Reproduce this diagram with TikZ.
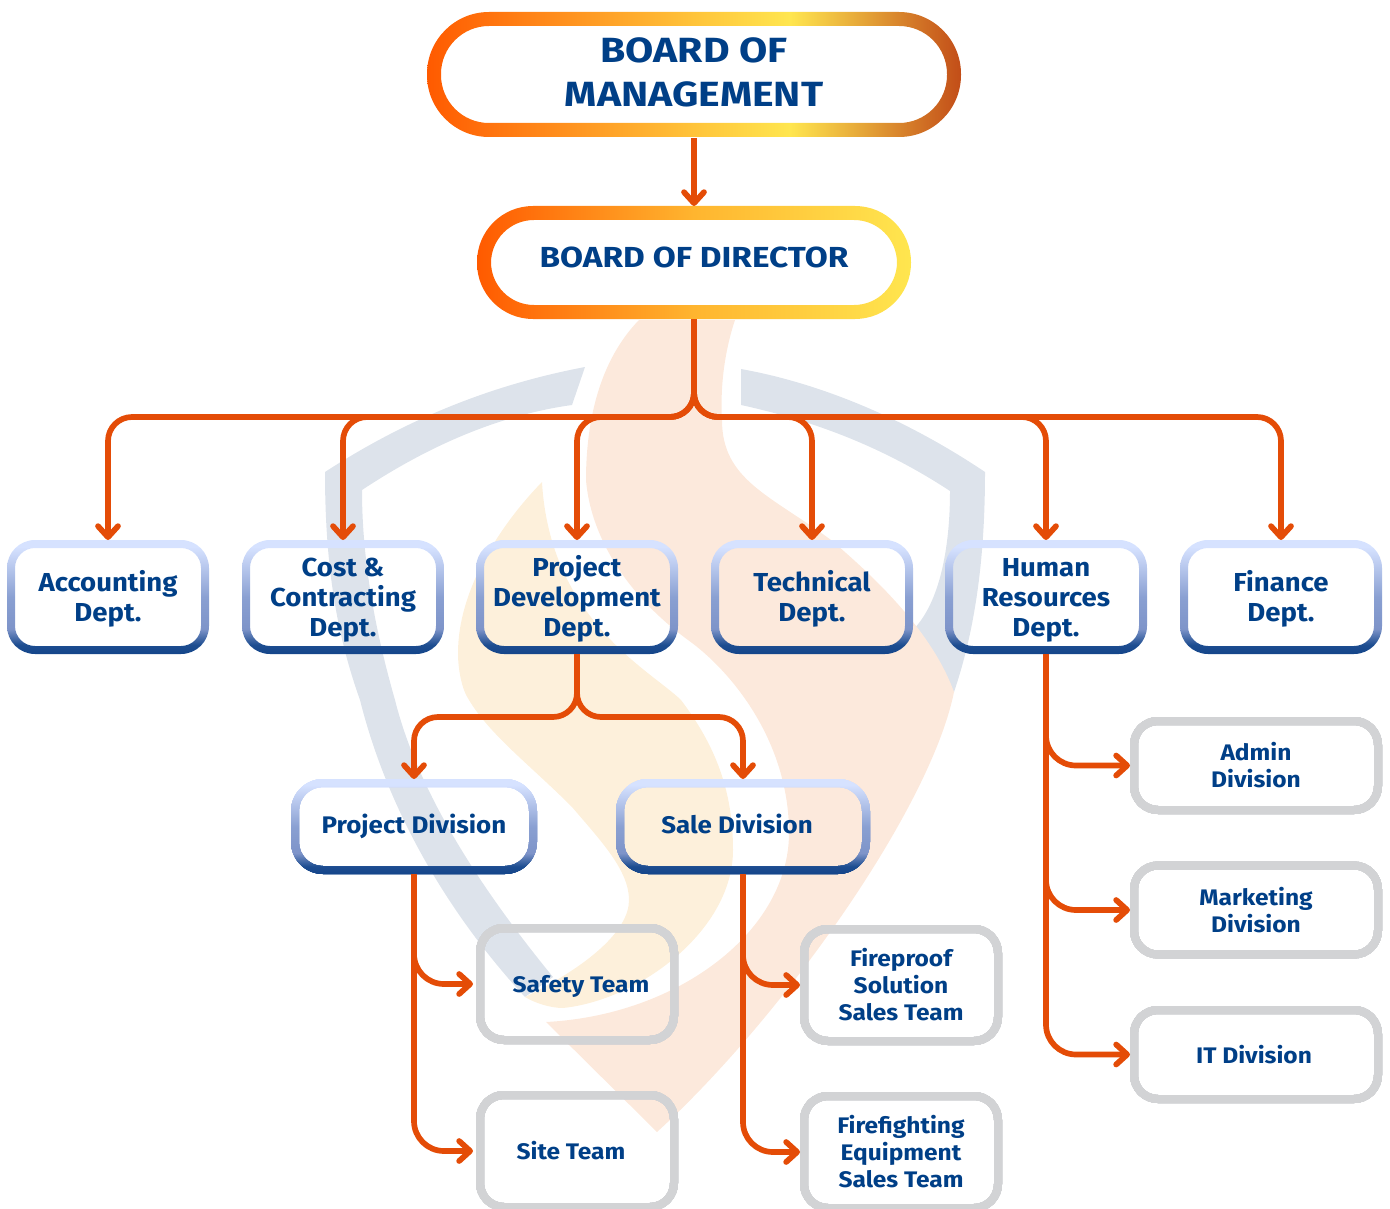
\documentclass[tikz,border=0pt]{standalone}
\usepackage{fontspec}
\setmainfont{Fira Sans}
\usetikzlibrary{arrows.meta}
\definecolor{titleblue}{HTML}{003F87}
\definecolor{linkorange}{HTML}{E44C07}
\definecolor{shieldgrey}{HTML}{DDE3EB}
\definecolor{flamepeach}{HTML}{FCE9DC}
\definecolor{flameyellow}{HTML}{FDF0DB}
\definecolor{teamgrey}{HTML}{D2D3D5}
\definecolor{ringorange}{HTML}{FF5A00}
\definecolor{ringamber}{HTML}{FFC43A}
\definecolor{ringmid}{HTML}{FFB52F}
\definecolor{ringyellow}{HTML}{FFE64F}
\definecolor{ringbrown}{HTML}{C24D18}
\definecolor{ringnavy}{HTML}{14458A}
\definecolor{ringnavyb}{HTML}{1D4D90}
\definecolor{ringblue}{HTML}{7E94C9}
\definecolor{ringbluem}{HTML}{8AA0D2}
\definecolor{ringpale}{HTML}{D6E2FF}
\pgfdeclarehorizontalshading{boardring}{100bp}{color(0bp)=(ringorange);color(25bp)=(ringorange);color(50bp)=(ringamber);color(59bp)=(ringyellow);color(75bp)=(ringbrown);color(100bp)=(ringbrown)}
\pgfdeclarehorizontalshading{directorring}{100bp}{color(0bp)=(ringorange);color(25bp)=(ringorange);color(50bp)=(ringmid);color(75bp)=(ringyellow);color(100bp)=(ringyellow)}
\pgfdeclareverticalshading{deptring}{100bp}{color(0bp)=(ringnavy);color(25bp)=(ringnavy);color(29bp)=(ringnavyb);color(36bp)=(ringblue);color(50bp)=(ringbluem);color(72bp)=(ringpale);color(75bp)=(ringpale);color(100bp)=(ringpale)}
\newcommand{\ringbox}[5]{\path[even odd rule,shading=#1,rounded corners=#3pt] (#2.south west) rectangle (#2.north east)
  [rounded corners=#4pt] ([shift={(#5,#5)}]#2.north west) rectangle ([shift={(-#5,-#5)}]#2.south east);}
\newcommand{\deptgap}{\rule{0pt}{25pt}}
\newcommand{\teamgap}{\rule{0pt}{18pt}}
\tikzset{
  x=1pt,y=-1pt,
  boxtext/.style={inner sep=0pt,outer sep=0pt,text=titleblue,align=center},
  boardbox/.style={boxtext,font=\fontsize{35}{44}\selectfont\bfseries\addfontfeature{FakeStretch=1.17}},
  deptbox/.style={boxtext,minimum width=202pt,minimum height=114pt,font=\fontsize{26}{30}\selectfont\bfseries\addfontfeature{FakeStretch=1.06}},
  divbox/.style={boxtext,minimum height=95pt,font=\fontsize{24}{28}\selectfont\bfseries\addfontfeature{FakeStretch=1.08},
    execute at begin node={\rule{0pt}{24pt}},execute at end node={\rule[-11pt]{0pt}{0pt}}},
  teambox/.style={boxtext,font=\fontsize{22.5}{27}\selectfont\bfseries\addfontfeature{FakeStretch=1.09}},
  teamone/.style={teambox,execute at begin node={\rule{0pt}{24pt}},execute at end node={\rule[-7pt]{0pt}{0pt}}},
  link/.style={draw=linkorange,line width=5.7pt,rounded corners=24pt,-{Straight Barb[length=11pt,width=20pt,round,line width=5.7pt]}}
}
\begin{document}
\begin{tikzpicture}
  \useasboundingbox (0,0) rectangle (1390,1209);
  % watermark
  \fill[shieldgrey] (585,367) .. controls (490,385) and (405,420) .. (325,472)
    .. controls (325,560) and (335,630) .. (360,700)
    .. controls (385,800) and (440,905) .. (525,997) -- (553,977)
    .. controls (490,900) and (420,800) .. (395,700)
    .. controls (375,630) and (362,560) .. (362,490)
    .. controls (430,445) and (500,415) .. (572,405) -- cycle;
  \fill[shieldgrey] (741,369) .. controls (830,385) and (915,425) .. (985,472)
    .. controls (985,560) and (975,630) .. (954,692) -- (900,640)
    .. controls (935,620) and (950,560) .. (950,491)
    .. controls (880,445) and (810,420) .. (741,405) -- cycle;
  \fill[flameyellow] (542,482) .. controls (500,525) and (458,590) .. (458,653)
    .. controls (458,670) and (462,690) .. (469,700)
    .. controls (490,735) and (530,765) .. (572,807)
    .. controls (600,840) and (629,870) .. (629,900)
    .. controls (629,930) and (590,965) .. (525,997)
    .. controls (535,1003) and (550,1008) .. (563,1008)
    .. controls (640,1000) and (733,930) .. (733,850)
    .. controls (733,790) and (715,745) .. (681,700)
    .. controls (650,670) and (550,620) .. (542,482) -- cycle;
  \fill[flamepeach] (639,320) .. controls (600,360) and (586,420) .. (586,480)
    .. controls (590,530) and (620,590) .. (688,640)
    .. controls (730,670) and (789,740) .. (789,833)
    .. controls (789,930) and (680,1015) .. (546,1022)
    -- (657,1132)
    .. controls (780,1020) and (930,810) .. (954,692)
    .. controls (935,640) and (890,590) .. (831,540)
    .. controls (770,495) and (722,480) .. (722,420)
    .. controls (720,385) and (725,350) .. (735,320) -- cycle;
  % boxes
  \node[boardbox,minimum width=534pt,minimum height=125pt] (board) at (694,74.5) {BOARD OF\\MANAGEMENT\rule[-5pt]{0pt}{0pt}};
  \node[boardbox,minimum width=434pt,minimum height=113pt,font=\fontsize{29}{36}\selectfont\bfseries\addfontfeature{FakeStretch=1.15}] (director) at (694,262.5) {\raisebox{11pt}{BOARD OF DIRECTOR}};
  \node[deptbox] (account) at (108,597) {\deptgap Accounting\\Dept.};
  \node[deptbox] (cost) at (343,597) {\deptgap Cost \&\\Contracting\\Dept.};
  \node[deptbox] (project) at (577,597) {\deptgap Project\\Development\\Dept.};
  \node[deptbox] (technical) at (812,597) {\deptgap Technical\\Dept.};
  \node[deptbox] (human) at (1046,597) {\deptgap Human\\Resources\\Dept.};
  \node[deptbox] (finance) at (1281,597) {\deptgap Finance\\Dept.};
  \node[divbox,minimum width=246pt] (projdiv) at (414,826.5) {Project Division};
  \node[divbox,minimum width=254pt] (salediv) at (743,826.5) {\hspace*{-12pt}Sale Division};
  \node[teamone,minimum width=202pt,minimum height=120pt] (safety) at (577,984) {\hspace*{8pt}Safety Team};
  \node[teamone,minimum width=202pt,minimum height=120pt] (site) at (577,1151) {\hspace*{-12pt}Site Team};
  \node[teambox,minimum width=202pt,minimum height=120pt] (fireproof) at (901,985) {\teamgap Fireproof\\Solution\\Sales Team};
  \node[teambox,minimum width=202pt,minimum height=120pt] (firefight) at (901,1152) {\teamgap Firefighting\\Equipment\\Sales Team};
  \node[teambox,minimum width=252pt,minimum height=97pt] (admin) at (1256,765.5) {\teamgap Admin\\Division};
  \node[teambox,minimum width=252pt,minimum height=97pt] (market) at (1256,910) {\teamgap Marketing\\Division};
  \node[teamone,minimum width=252pt,minimum height=97pt] (itdiv) at (1256,1054.5) {\hspace*{-4pt}IT Division};
  \ringbox{boardring}{board}{62}{48}{14}
  \ringbox{directorring}{director}{56}{43}{14}
  \foreach \n in {account,cost,project,technical,human,finance}
    \ringbox{deptring}{\n}{28}{20}{8}
  \foreach \n in {projdiv,salediv}
    \ringbox{deptring}{\n}{32}{24}{8}
  \foreach \n in {safety,site,fireproof,firefight,admin,market,itdiv}
    \path[draw=teamgrey,line width=8pt,rounded corners=24pt] ([shift={(4,4)}]\n.north west) rectangle ([shift={(-4,-4)}]\n.south east);
  % connectors
  \coordinate (busdept) at (694,417);
  \coordinate (busdiv) at (577,717);
  \draw[link] ([yshift=-1pt]board.south) -- (director.north);
  \foreach \n in {account,cost,project,technical,human,finance}
    \draw[link] (director.south) -- (busdept) -| (\n.north);
  \foreach \n in {projdiv,salediv}
    \draw[link] (project.south) -- (busdiv) -| (\n.north);
  \foreach \n in {safety,site}
    \draw[link,rounded corners=30pt,shorten >=3pt] (projdiv.south) |- (\n.west);
  \foreach \n in {fireproof,firefight}
    \draw[link,rounded corners=30pt] (salediv.south) |- (\n.west);
  \foreach \n in {admin,market,itdiv}
    \draw[link,rounded corners=30pt] (human.south) |- (\n.west);
\end{tikzpicture}
\end{document}
